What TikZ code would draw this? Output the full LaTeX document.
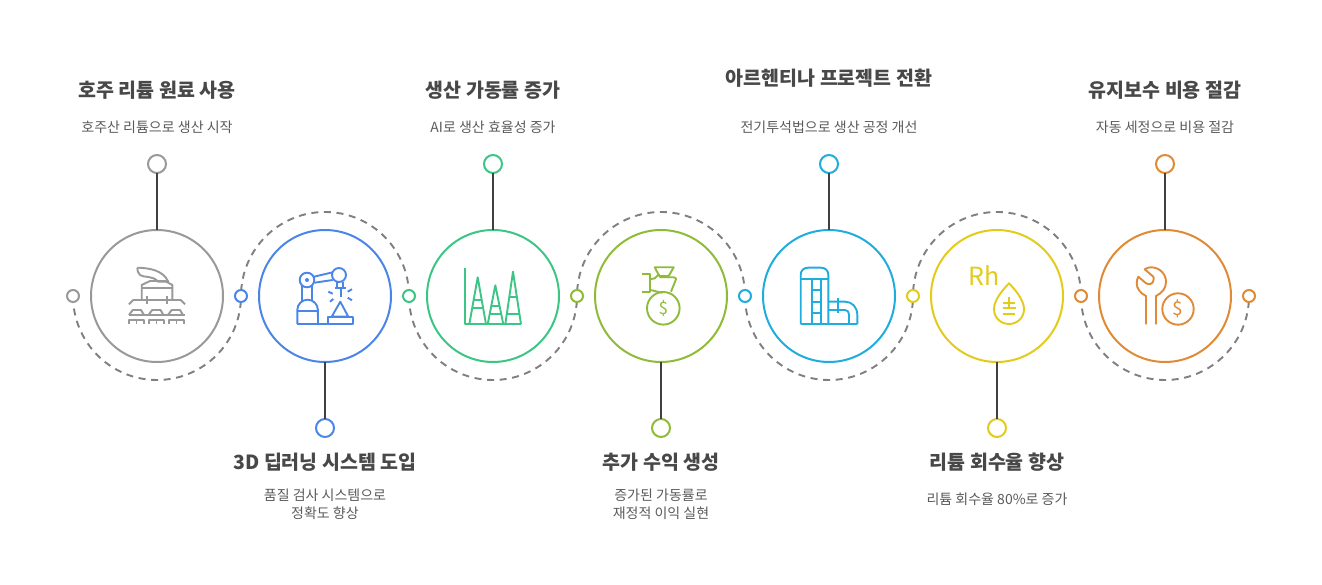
\documentclass[tikz,border=0pt]{standalone}
\usepackage{fontspec}
\setmainfont{Noto Sans CJK KR}
\usetikzlibrary{calc}
\definecolor{greyC}{HTML}{999999}
\definecolor{blueC}{HTML}{4A86E8}
\definecolor{greenC}{HTML}{3DC585}
\definecolor{limeC}{HTML}{8FBC38}
\definecolor{cyanC}{HTML}{1FADDD}
\definecolor{yellowC}{HTML}{E3CB1C}
\definecolor{orangeC}{HTML}{E08A35}
\definecolor{stemC}{HTML}{404040}
\definecolor{dashC}{HTML}{7F7F7F}
\definecolor{titleC}{HTML}{484848}
\definecolor{subC}{HTML}{5A5A5A}
\def\lwRing{2pt}
\def\lwIcon{1.9pt}
\def\lwStem{2pt}
\def\ringD{132pt}
\def\pinD{18pt}
\def\jointD{12pt}
\def\loopR{84}
\def\stemY{132}
\tikzset{
  stepring/.style={circle, draw=#1, line width=\lwRing, fill=white, minimum size=\ringD, inner sep=0pt, outer sep=0pt},
  pinnode/.style={circle, draw=#1, line width=\lwRing, fill=white, minimum size=\pinD, inner sep=0pt, outer sep=0pt},
  jointnode/.style={circle, draw=#1, line width=\lwRing, fill=white, minimum size=\jointD, inner sep=0pt, outer sep=0pt},
  stemline/.style={stemC, line width=\lwStem},
  loopline/.style={dashC, line width=1.9pt, dash pattern=on 7pt off 5.6pt},
  iconline/.style={#1, line width=\lwIcon, line join=round},
  titletext/.style={titleC, font=\fontsize{19.5}{23}\selectfont\bfseries, inner sep=0pt},
  subtext/.style={subC, font=\fontsize{14}{18}\selectfont, align=center, inner sep=0pt},
}
\begin{document}
\begin{tikzpicture}[x=1pt, y=1pt]
  \useasboundingbox (0,-289) rectangle (1322,296);

  % Loop joints on the centre line
  \coordinate (jA) at (73,0);
  \coordinate (jB) at (241,0);
  \coordinate (jC) at (409,0);
  \coordinate (jD) at (577,0);
  \coordinate (jE) at (745,0);
  \coordinate (jF) at (913,0);
  \coordinate (jG) at (1081,0);
  \coordinate (jH) at (1249,0);

  % Dashed half circles
  \draw[loopline] (jA) arc (180:360:\loopR);
  \draw[loopline] (jC) arc (0:180:\loopR);
  \draw[loopline] (jC) arc (180:360:\loopR);
  \draw[loopline] (jE) arc (0:180:\loopR);
  \draw[loopline] (jE) arc (180:360:\loopR);
  \draw[loopline] (jG) arc (0:180:\loopR);
  \draw[loopline] (jG) arc (180:360:\loopR);

  % Rings
  \node[stepring=greyC]   (ringA) at (157,0)  {};
  \node[stepring=blueC]   (ringB) at (325,0)  {};
  \node[stepring=greenC]  (ringC) at (493,0)  {};
  \node[stepring=limeC]   (ringD) at (661,0)  {};
  \node[stepring=cyanC]   (ringE) at (829,0)  {};
  \node[stepring=yellowC] (ringF) at (997,0)  {};
  \node[stepring=orangeC] (ringG) at (1165,0) {};

  % Joints
  \node[jointnode=greyC]   (dotA) at (jA) {};
  \node[jointnode=blueC]   (dotB) at (jB) {};
  \node[jointnode=greenC]  (dotC) at (jC) {};
  \node[jointnode=limeC]   (dotD) at (jD) {};
  \node[jointnode=cyanC]   (dotE) at (jE) {};
  \node[jointnode=yellowC] (dotF) at (jF) {};
  \node[jointnode=orangeC] (dotG) at (jG) {};
  \node[jointnode=orangeC] (dotH) at (jH) {};

  % Pins and stems
  \node[pinnode=greyC]   (pinA) at (157,\stemY)   {};
  \node[pinnode=blueC]   (pinB) at (325,-\stemY)  {};
  \node[pinnode=greenC]  (pinC) at (493,\stemY)   {};
  \node[pinnode=limeC]   (pinD) at (661,-\stemY)  {};
  \node[pinnode=cyanC]   (pinE) at (829,\stemY)   {};
  \node[pinnode=yellowC] (pinF) at (997,-\stemY)  {};
  \node[pinnode=orangeC] (pinG) at (1165,\stemY)  {};
  \draw[stemline] (ringA) -- (pinA);
  \draw[stemline] (ringB) -- (pinB);
  \draw[stemline] (ringC) -- (pinC);
  \draw[stemline] (ringD) -- (pinD);
  \draw[stemline] (ringE) -- (pinE);
  \draw[stemline] (ringF) -- (pinF);
  \draw[stemline] (ringG) -- (pinG);

  % Labels
  \node[titletext] (titleA) at (157,206)  {호주 리튬 원료 사용};
  \node[subtext]   (subA)   at (157,169)  {호주산 리튬으로 생산 시작};
  \node[titletext] (titleB) at (325,-166) {3D 딥러닝 시스템 도입};
  \node[subtext]   (subB)   at (325,-208) {품질 검사 시스템으로\\정확도 향상};
  \node[titletext] (titleC) at (493,206)  {생산 가동률 증가};
  \node[subtext]   (subC)   at (493,169)  {AI로 생산 효율성 증가};
  \node[titletext] (titleD) at (661,-166) {추가 수익 생성};
  \node[subtext]   (subD)   at (661,-208) {증가된 가동률로\\재정적 이익 실현};
  \node[titletext] (titleE) at (829,218)  {아르헨티나 프로젝트 전환};
  \node[subtext]   (subE)   at (829,169)  {전기투석법으로 생산 공정 개선};
  \node[titletext] (titleF) at (997,-166) {리튬 회수율 향상};
  \node[subtext]   (subF)   at (997,-203) {리튬 회수율 80\%로 증가};
  \node[titletext] (titleG) at (1165,206) {유지보수 비용 절감};
  \node[subtext]   (subG)   at (1165,169) {자동 세정으로 비용 절감};

  % Icon: mine plant
  \begin{scope}[shift={(157,0)}, iconline=greyC]
    \draw (-19.7,28.3) .. controls (-8,28) and (6,26) .. (11.3,14.3) -- (1.3,14.3)
      .. controls (-5,21) and (-13,18) .. (-17,21) .. controls (-19,23) and (-20,26) .. (-19.7,28.3);
    \draw (-15.3,-4) -- (-15.3,11) -- (-7,15) -- (8,15) -- (15.3,11) -- (15.3,-4);
    \draw (-15.3,7.7) -- (15.3,7.7);
    \draw (-28,-8.3) -- (-23.7,-4) -- (23.7,-4) -- (28,-8.3);
    \draw (-10,0) -- (-10,-8.3);
    \draw (10,0) -- (10,-8.3);
    \draw (-28,-19) -- (28,-19);
    \draw (-28,-19) -- (-24.3,-14) -- (-16,-14) -- (-13,-19);
    \draw (-8.5,-19) -- (-4.8,-14) -- (3.5,-14) -- (6.5,-19);
    \draw (11,-19) -- (14.7,-14) -- (23,-14) -- (26,-19);
    \draw (-28,-28.5) -- (-28,-24) -- (-13,-24) -- (-13,-28.5);
    \draw (-20.5,-24) -- (-20.5,-28.5);
    \draw (-8,-28.5) -- (-8,-24) -- (7,-24) -- (7,-28.5);
    \draw (-0.5,-24) -- (-0.5,-28.5);
    \draw (12,-28.5) -- (12,-24) -- (27,-24) -- (27,-28.5);
    \draw (19.5,-24) -- (19.5,-28.5);
  \end{scope}

  % Icon: robot arm
  \begin{scope}[shift={(325,0)}, iconline=blueC]
    \draw (-18,16) circle (7.3);
    \fill[blueC] (-18,16) circle (2);
    \draw (14,21) circle (7);
    \draw (-11,19.3) -- (7.7,23.7);
    \draw (-10.5,13.3) -- (7.7,16);
    \draw (-22.7,9.7) -- (-22.7,-5);
    \draw (-12.7,9.7) -- (-12.7,-5);
    \draw (-27.7,-28) -- (-27.7,-14) arc (180:0:10.3) -- (-7,-28);
    \draw (-27.7,-14.7) -- (-7,-14.7);
    \draw (-27.7,-28) -- (27.7,-28);
    \draw (12.3,14) -- (12.3,7.7);
    \draw (17.7,14) -- (17.7,7.7);
    \draw (10.3,7.7) -- (21,7.7);
    \draw (16,7.7) -- (16,-1.3);
    \draw (3.3,4.3) -- (7.7,2.3);
    \draw (5,-5.7) -- (8.3,-3);
    \draw (22.7,4.3) -- (27,6.8);
    \draw (22.7,-1.7) -- (27,-4.3);
    \draw (15.3,-5.7) -- (6.7,-20.7) -- (23.3,-20.7) -- cycle;
    \draw (3.3,-28) rectangle (27.7,-20.7);
  \end{scope}

  % Icon: yield chart
  \begin{scope}[shift={(493,0)}, iconline=greenC]
    \draw (-28,28.3) -- (-28,-28.3) -- (28,-28.3);
    \draw (-23.7,-28.3) -- (-15.3,18.7) -- (-7,-28.3);
    \draw (-5.3,-28.3) -- (2.3,10.7) -- (10.3,-28.3);
    \draw (12.3,-28.3) -- (20,24.3) -- (28,-28.3);
    \draw (-19.3,-4) -- (-11.3,-4);
    \draw (-20.8,-12.3) -- (-9.8,-12.3);
    \draw (-1.8,-10) -- (6.4,-10);
    \draw (-3.5,-18.3) -- (8.1,-18.3);
    \draw (16.2,-1.3) -- (23.8,-1.3);
    \draw (13.6,-18.3) -- (26.4,-18.3);
  \end{scope}

  % Icon: money bag
  \begin{scope}[shift={(661,0)}, iconline=limeC]
    \draw (2.3,-12.3) circle (16.3);
    \node[limeC, font=\fontsize{17}{17}\selectfont, inner sep=0pt] (dollarD) at (2.3,-12.3) {\$};
    \draw (-6.3,28.7) -- (12.7,28.7) -- (7.7,20) -- (-1.7,20) -- cycle;
    \draw (-19,21.7) -- (-11.3,21.7) -- (-11.3,4.3) -- (-19,4.3);
    \draw (-11.3,16.7) -- (-6.3,17.7) -- (-1.7,22);
    \draw (-1.7,18.7) -- (12.7,18.7) .. controls (15,18.5) and (15,17) .. (15,16.7) -- (10,4.3);
    \draw (-11.3,6) .. controls (-6,5.5) and (-3,3.5) .. (1,3.3);
  \end{scope}

  % Icon: silo and pipe
  \begin{scope}[shift={(829,0)}, iconline=cyanC]
    \draw (-28.3,-28.3) -- (-28.3,21) .. controls (-28.3,26) and (-25,28.3) .. (-20.7,28.3)
      -- (-8.3,28.3) .. controls (-4,28.3) and (-0.7,26) .. (-0.7,21) -- (-0.7,-28.3);
    \draw (-28.3,16.7) -- (-0.7,16.7);
    \draw (-17.3,16.7) -- (-17.3,-28.3);
    \draw (-8.3,16.7) -- (-8.3,-28.3);
    \draw (-17.3,6) -- (-8.3,6);
    \draw (-17.3,-5.7) -- (-8.3,-5.7);
    \draw (-17.3,-16.7) -- (-8.3,-16.7);
    \draw (-28.3,-28.3) -- (28.3,-28.3);
    \draw (-0.7,-5.7) -- (16,-5.7) .. controls (23,-5.7) and (28.3,-11) .. (28.3,-19) -- (28.3,-28.3);
    \draw (-0.7,-14) -- (16,-14) .. controls (18.5,-14) and (20,-16) .. (20,-18.3) -- (20,-28.3);
    \draw (9.3,-2.3) -- (9.3,-17.3);
  \end{scope}

  % Icon: rhodium drop
  \begin{scope}[shift={(997,0)}, iconline=yellowC]
    \node[yellowC, font=\fontsize{25}{25}\selectfont, anchor=base west, inner sep=0pt] (rhF) at (-29.5,10) {Rh};
    \draw (12,12.7) .. controls (16,8.5) and (27,-3) .. (27,-13)
      .. controls (27,-22) and (20,-28) .. (12,-28)
      .. controls (4,-28) and (-3,-22) .. (-3,-13)
      .. controls (-3,-3) and (8,8.5) .. (12,12.7) -- cycle;
    \draw (12,-1.5) -- (12,-12.3);
    \draw (6,-7.3) -- (18,-7.3);
    \draw (5.5,-12.3) -- (18.5,-12.3);
    \draw (6,-18.3) -- (18,-18.3);
  \end{scope}

  % Icon: wrench and coin
  \begin{scope}[shift={(1165,0)}, iconline=orangeC]
    \draw (-19,-28.3) -- (-19,0) .. controls (-25,3) and (-28.3,7.5) .. (-28.3,12.7)
      .. controls (-28.3,15) and (-27.7,17.5) .. (-26.7,19.3)
      -- (-19,12.7) .. controls (-16,11) and (-12.5,12) .. (-11.7,15) .. controls (-11,17) and (-11.2,18.5) .. (-11.7,19.3)
      -- (-20.3,26.7) .. controls (-18.5,28) and (-16,28.7) .. (-14,28.7)
      .. controls (-5.5,28.7) and (1,22) .. (1,14.3) .. controls (1,7.5) and (-3,3) .. (-9,0) -- (-9,-28.3);
    \draw (13,-13) circle (15.7);
    \node[orangeC, font=\fontsize{19}{19}\selectfont, inner sep=0pt] (dollarG) at (13,-13) {\$};
  \end{scope}
\end{tikzpicture}
\end{document}
